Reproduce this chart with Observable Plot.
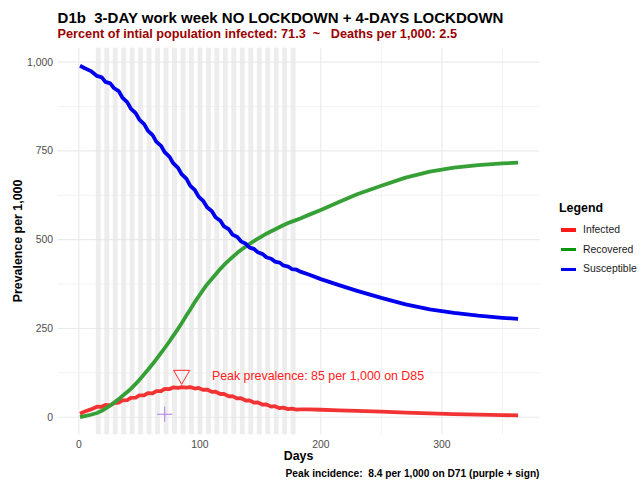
<!DOCTYPE html>
<html><head><meta charset="utf-8">
<script src="https://cdn.jsdelivr.net/npm/d3@7"></script>
<script src="https://cdn.jsdelivr.net/npm/@observablehq/plot@0.6"></script>
<style>
body{margin:0;background:#fff;}
#wrap{position:relative;width:642px;height:483px;font-family:"Liberation Sans",Arial,sans-serif;overflow:hidden;background:#fff;}
#wrap svg{position:absolute;left:0;top:0;}
.t{position:absolute;white-space:pre;}
.sw{position:absolute;height:3.4px;width:15.3px;}
</style></head><body><div id="wrap"></div>
<script>
// ---- data ----
const days = [1,5,10,15,19,22,26,29,33,36,40,43,47,50,54,57,61,64,68,71,75,78,82,85,89,92,96,99,103,106,110,113,117,120,124,127,131,134,138,141,145,148,152,155,159,162,166,169,173,176,180,183,190,200,215,230,250,270,290,310,330,350,363];
const infected = [10,16,22,29.6,29.4,34.6,33.4,39.6,41.4,47.6,48.4,54.6,55.4,61.6,61.4,67.6,67.4,73.6,73.4,79.6,79.4,84,82.4,85,83.2,84.8,80.9,82.5,76.9,78,71.4,72,65.4,65.5,58.9,59.5,52.9,53.5,46.9,47.5,40.9,41.5,35.4,36,29.9,31,25.4,27,22.8,24.2,21.2,22,22,21,19.5,18,15.5,13,11,9,7.5,6,5];
const recovered = [0,3,7,12,18,24,33,41,51,60,71,80,94,105,121,133,150,163,181,195,214,229,249,265,287,303,325,340,360,374,390,402,418,429,442,451,463,471,481,488,497,503,511,517,524,529,536,541,547,551,556,560,570,584,606,628,652,675,692,703,710,715,717];
const susceptible = [990,983,975,961.5,957.5,944.5,940.5,927.5,918.5,900.5,887.5,869.5,856.5,838.5,825.5,807.5,794.5,776.5,764.5,746.5,733.5,715.5,702.5,684.5,671.5,652.5,639.5,621.5,608.5,591.5,580.5,563.5,553.5,537.5,529.5,514.5,507.5,495.5,488.5,478.5,473.5,464.5,459.5,450.5,446.5,438.5,435.5,427.5,424.5,417.5,415.5,410,402,389,372,356,336,318,304,294,286,280,277];
const seriesNames = ["Infected","Recovered","Susceptible"];
const lineColors = ["#f23333","#36a036","#0000ee"];
const keyColors = ["#ff1a1a","#0a960a","#0000f0"];
// lockdown (4-day) bands
const lockStart = [14.5,21.5,28.5,35.5,42.5,49.5,56.5,63.5,70.5,77.5,84.5,91.5,98.5,105.5,112.5,119.5,126.5,133.5,140.5,147.5,154.5,161.5,168.5,175.5];
const lockEnd   = [18.5,25.5,32.5,39.5,46.5,53.5,60.5,67.5,74.5,81.5,88.5,95.5,102.5,109.5,116.5,123.5,130.5,137.5,144.5,151.5,158.5,165.5,172.5,179.5];
// axes
const xMajor = [0,100,200,300];
const xMinor = [50,150,250,350];
const yMajor = [0,250,500,750,1000];
const yMinor = [125,375,625,875];
// annotations
const peakPrevDay = 85, peakPrevMarker = 119;
const peakLabelDay = 110, peakLabelValue = 117;
const peakLabel = "Peak prevalence: 85 per 1,000 on D85";
const peakIncDay = 71, peakIncValue = 8.4;

const titleText = "D1b  3-DAY work week NO LOCKDOWN + 4-DAYS LOCKDOWN";
const subtitleText = "Percent of intial population infected: 71.3  ~   Deaths per 1,000: 2.5";
const captionText = "Peak incidence:  8.4 per 1,000 on D71 (purple + sign)";

// ---- build tables ----
const rows = [];
[infected, recovered, susceptible].forEach((arr, s) => {
  days.forEach((d, i) => rows.push({day: d, value: arr[i], series: seriesNames[s]}));
});
const bands = lockStart.map((s, i) => ({start: s, end: lockEnd[i]}));

const font = "'Liberation Sans', Arial, sans-serif";
const chart = Plot.plot({
  width: 642, height: 483,
  marginLeft: 57.6, marginRight: 102.5, marginTop: 47.7, marginBottom: 48.7,
  style: {fontFamily: font, fontSize: "10.4px", color: "#4d4d4d", background: "transparent"},
  x: {domain: [-17.1, 381.1]},
  y: {domain: [-49.5, 1039.5]},
  color: {domain: seriesNames, range: lineColors},
  marks: [
    Plot.ruleX(xMinor, {stroke: "#ebebeb", strokeWidth: 0.6}),
    Plot.ruleX(xMajor, {stroke: "#ebebeb", strokeWidth: 1.2}),
    Plot.ruleY(yMinor, {stroke: "#ebebeb", strokeWidth: 0.6}),
    Plot.ruleY(yMajor, {stroke: "#ebebeb", strokeWidth: 1.2}),
    Plot.rect(bands, {x1: "start", x2: "end", fill: "#e6e6e6", fillOpacity: 0.7}),
    Plot.axisX({ticks: xMajor, tickSize: 0, tickPadding: 5.7, label: null}),
    Plot.axisY({ticks: yMajor, tickSize: 0, tickPadding: 5, label: null, tickFormat: d3.format(",")}),
    Plot.line(rows, {x: "day", y: "value", z: "series", stroke: "series", strokeWidth: 3.8, strokeLinecap: "butt", strokeLinejoin: "round"}),
    Plot.dot([{day: peakPrevDay, value: peakPrevMarker}], {x: "day", y: "value", symbol: "triangle", rotate: 180, r: 6, stroke: "#ff2a2a", fill: "none", strokeWidth: 1}),
    Plot.text([{day: peakLabelDay, value: peakLabelValue, label: peakLabel}], {x: "day", y: "value", text: "label", textAnchor: "start", fill: "#ff2020", fontSize: 12.4}),
    Plot.dot([{day: peakIncDay, value: peakIncValue}], {x: "day", y: "value", symbol: "plus", r: 5, stroke: "#b57be6", strokeWidth: 1})
  ]
});

const wrap = document.getElementById("wrap");
wrap.appendChild(chart);

function addText(txt, css) {
  const d = document.createElement("div");
  d.className = "t";
  d.textContent = txt;
  Object.assign(d.style, css);
  wrap.appendChild(d);
  return d;
}
addText(titleText, {left: "57.6px", top: "9.5px", fontSize: "15px", lineHeight: "15px", fontWeight: "bold", color: "#000"});
addText(subtitleText, {left: "57.6px", top: "27.8px", fontSize: "12.7px", lineHeight: "12.7px", fontWeight: "bold", color: "#9b0000"});
addText("Prevalence per 1,000", {left: "18px", top: "241px", fontSize: "12.4px", lineHeight: "12.4px", fontWeight: "bold", color: "#000", transform: "translate(-50%,-50%) rotate(-90deg)"});
addText("Days", {left: "298.5px", top: "450.4px", fontSize: "12.4px", lineHeight: "12.4px", fontWeight: "bold", color: "#000", transform: "translateX(-50%)"});
addText(captionText, {right: "102.5px", top: "469.4px", fontSize: "10.2px", lineHeight: "10.2px", fontWeight: "bold", color: "#000", textAlign: "right"});
addText("Legend", {left: "559px", top: "201.7px", fontSize: "12.4px", lineHeight: "12.4px", fontWeight: "bold", color: "#000"});
seriesNames.forEach((name, i) => {
  const cy = 230 + i * 19.7;
  const sw = document.createElement("div");
  sw.className = "sw";
  Object.assign(sw.style, {left: "560.7px", top: (cy - 1.7) + "px", background: keyColors[i]});
  wrap.appendChild(sw);
  addText(name, {left: "583px", top: (cy + 3.7 - 8.8) + "px", fontSize: "10.4px", lineHeight: "10.4px", color: "#1a1a1a"});
});
</script>
</body></html>
